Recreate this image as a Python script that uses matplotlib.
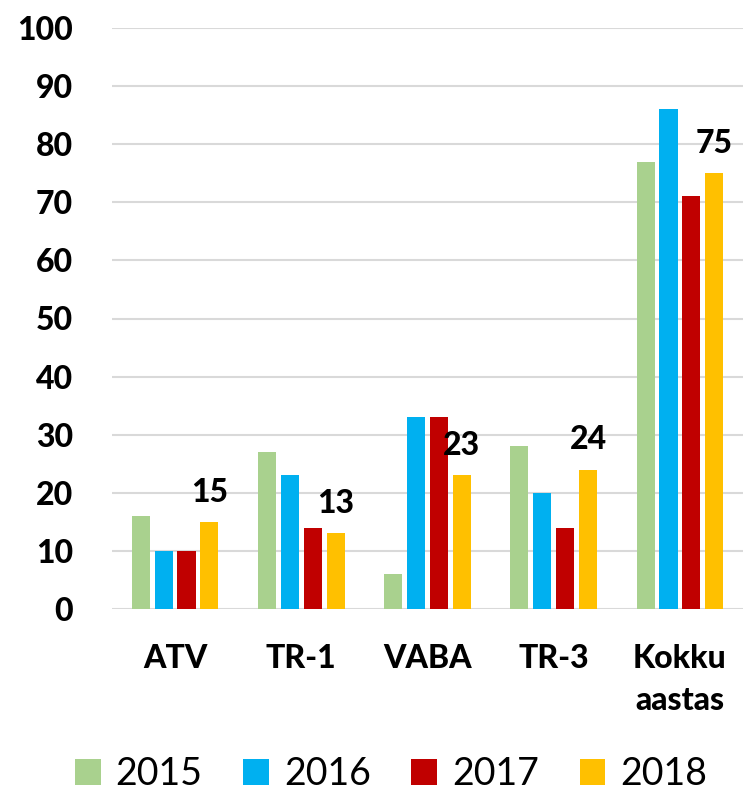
import matplotlib
matplotlib.use("Agg")
import matplotlib.pyplot as plt
import numpy as np

categories = ["ATV", "TR-1", "VABA", "TR-3", "Kokku\naastas"]
years = ["2015", "2016", "2017", "2018"]
v2015 = [16, 27, 6, 28, 77]
v2016 = [10, 23, 33, 20, 86]
v2017 = [10, 14, 33, 14, 71]
v2018 = [15, 13, 23, 24, 75]
series = [v2015, v2016, v2017, v2018]
colors = ["#A9D18E", "#00B0F0", "#C00000", "#FFC000"]
yticks = list(range(0, 101, 10))

plt.rcParams['font.family'] = ['Lato', 'DejaVu Sans']
FS = 23
W = "black"

fig = plt.figure(figsize=(7.43, 7.92), dpi=100)
ax = fig.add_axes([112/743, 1-609/792, 1-112/743, (609-28)/792])

x = np.arange(len(categories))
width = 0.143
step = 0.181
bars = []
for i, (vals, c, yr) in enumerate(zip(series, colors, years)):
    b = ax.bar(x + (i - 1.5) * step, vals, width, color=c, label=yr, zorder=3)
    bars.append(b)

# data labels only for 2018
for rect, v in zip(bars[3], v2018):
    ax.annotate(str(v), (rect.get_x() + rect.get_width()/2, rect.get_height()),
                xytext=(0, 14.5), textcoords="offset points",
                ha="center", va="baseline", fontsize=FS, fontweight=W,
                color="black", zorder=4)

ax.set_ylim(0, 100)
ax.set_xlim(-0.5, len(categories) - 0.5)
ax.set_yticks(yticks)
ax.set_yticklabels([str(t) for t in yticks], fontsize=FS, fontweight=W)
ax.set_xticks(x)
ax.set_xticklabels(categories, fontsize=FS, fontweight=W, linespacing=1.55)
ax.tick_params(axis="y", length=0, pad=28)
ax.tick_params(axis="x", length=0, pad=25)
ax.grid(axis="y", color="#D9D9D9", linewidth=1.5, zorder=0)
for s in ax.spines.values():
    s.set_visible(False)

fig.legend(loc="center", bbox_to_anchor=(391/743, 1-774/792), ncol=4,
           frameon=False, prop={"size": 27}, handlelength=0.69,
           handleheight=0.69, handletextpad=0.4, columnspacing=1.08,
           borderaxespad=0, borderpad=0)

fig.savefig("out.png", dpi=100)
